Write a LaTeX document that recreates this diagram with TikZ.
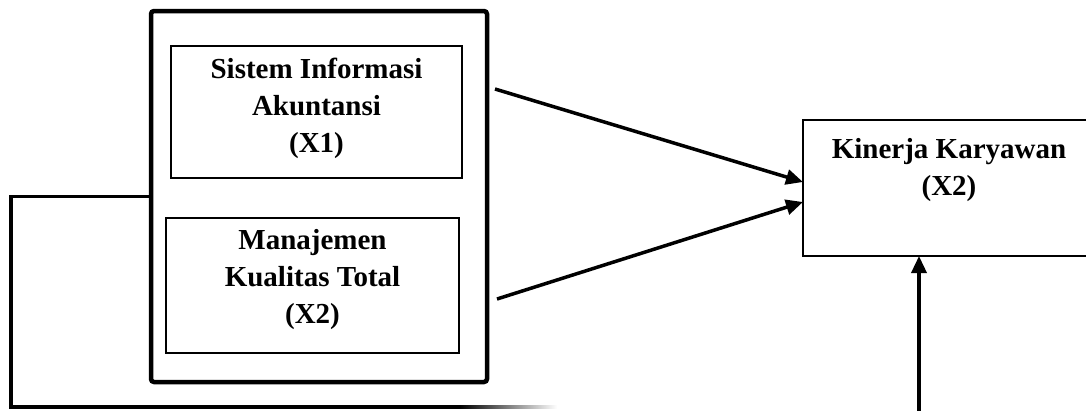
\documentclass[tikz,border=0pt]{standalone}
\usepackage{fontspec}
\setmainfont{Liberation Serif}
\usetikzlibrary{arrows.meta,calc}
\begin{document}
\begin{tikzpicture}[x=1pt,y=-1pt,
  every node/.style={outer sep=0pt},
  lbl/.style={font=\bfseries\fontsize{29}{37}\selectfont, align=center, inner sep=0pt},
  varbox/.style={draw, line width=1.2pt, inner sep=0pt, anchor=north west},
  groupbox/.style={draw, line width=4.5pt, rounded corners=3pt, inner sep=0pt, anchor=north west},
  link/.style={line width=3.5pt},
  arr/.style={line width=3.5pt, -{Triangle[length=17pt,width=15pt]}}]
\useasboundingbox (0,0) rectangle (1086,410);

% independent variables grouped in one frame
\node[groupbox, minimum width=336pt, minimum height=371pt] (grp) at (151,11) {};
\node[varbox, minimum width=291pt, minimum height=132pt] (sia) at (171,46) {};
\node[lbl] (siat) at (316.5,108) {Sistem Informasi\\Akuntansi\\(X1)};
\node[varbox, minimum width=293pt, minimum height=135pt] (mkt) at (166,218) {};
\node[lbl] (mktt) at (312.5,280) {Manajemen\\Kualitas Total\\(X2)};

% dependent variable
\node[draw, line width=1.5pt, inner sep=0pt, anchor=north west,
      minimum width=290pt, minimum height=136pt] (kk) at (803,120) {};
\node[lbl] (kkt) at (949,170) {Kinerja Karyawan\\(X2)};

% arrows towards the dependent variable
\coordinate (a1) at (495,89);
\coordinate (a2) at (497,299);
\draw[arr] (a1) -- ($(kk.west)+(0,-6)$);
\draw[arr] (a2) -- ($(kk.west)+(0,14)$);
\coordinate (v0) at (919,412);
\draw[arr] (v0) -- (v0 |- kk.south);

% line running around from the frame along the bottom
\coordinate (fb) at (460,407);
\draw[link] (grp.west) -- ++(-140,0) |- (fb);
\shade[left color=black, right color=white]
  ($(fb)+(0,-1.75)$) rectangle ($(fb)+(97,1.75)$);
\end{tikzpicture}
\end{document}
